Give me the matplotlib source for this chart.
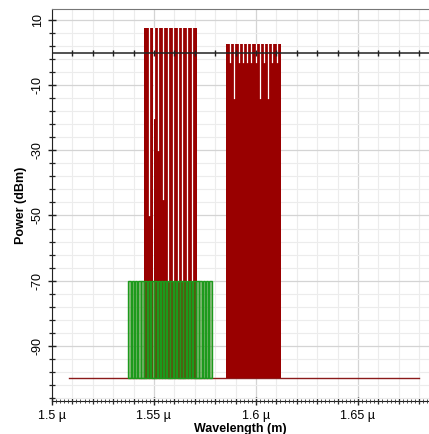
import matplotlib
matplotlib.use("Agg")
import matplotlib.pyplot as plt
import numpy as np

plt.rcParams['font.family'] = ['Liberation Sans', 'DejaVu Sans']

# channel centres (um) and peak powers (dBm)
red1_wl = [1.5463, 1.5486, 1.5510, 1.5533, 1.5557, 1.5580,
           1.5604, 1.5627, 1.5651, 1.5674, 1.5698]
red1_pw = [7.5, 7.5, 7.5, 7.5, 7.5, 7.5, 7.5, 7.5, 7.5, 7.5, 7.5]
# depth of the white notch between neighbouring channels
red1_gap = [-50, -20, -30, -45, -70, -70, -70, -70, -70, -70]

red2_wl = [1.5863, 1.5884, 1.5905, 1.5925, 1.5946, 1.5967, 1.5988,
           1.6008, 1.6029, 1.6050, 1.6071, 1.6091, 1.6112]
red2_pw = [2.6, 2.6, 2.6, 2.6, 2.6, 2.6, 2.6, 2.6, 2.6, 2.6, 2.6, 2.6, 2.6]
red2_gap = [-3, -14, -3, -3, -3, -3, -3, -14, -3, -14, -3, -3]

green_wl = [1.5381, 1.5397, 1.5413, 1.5429, 1.5445, 1.5460, 1.5476,
            1.5492, 1.5508, 1.5524, 1.5540, 1.5555, 1.5571, 1.5587,
            1.5603, 1.5619, 1.5634, 1.5650, 1.5666, 1.5682, 1.5698,
            1.5713, 1.5729, 1.5745, 1.5761, 1.5777]
green_pw = [-70] * 26

floor_db = -100
floor_start, floor_end = 1.5083, 1.680

red = '#990000'
green = '#1c9a1c'

fig = plt.figure(figsize=(4.29, 4.34), dpi=100)
ax = fig.add_axes([0.121, 0.076, 0.879, 0.903])

# noise floor
ax.plot([floor_start, floor_end], [floor_db, floor_db], color='#8b1a1a', lw=1, zorder=2)


def draw_red(wl, pw, gap):
    wl = np.array(wl)
    step = wl[1] - wl[0]
    ax.bar(wl, np.array(pw) - floor_db, bottom=floor_db, width=step,
           color=red, lw=0, zorder=3)
    # white notches between channels
    mids = (wl[:-1] + wl[1:]) / 2
    for m, g, p in zip(mids, gap, pw):
        ax.plot([m, m], [g, p], color='white', lw=0.9, zorder=4)


draw_red(red1_wl, red1_pw, red1_gap)
draw_red(red2_wl, red2_pw, red2_gap)

gwl = np.array(green_wl)
gstep = gwl[1] - gwl[0]
ax.bar(gwl, np.array(green_pw) - floor_db, bottom=floor_db, width=gstep * 0.8,
       facecolor=(0.2, 0.55, 0.1, 0.55), edgecolor=green, lw=1.0, zorder=5)

# 0 dBm reference line with its own ticks
ax.axhline(0, color='#222222', lw=1.1, zorder=6)
zt = np.arange(1.51, 1.685, 0.01)
ax.plot(zt, np.zeros(len(zt)), ls='none', marker='|', ms=5, color='#222222', zorder=6)

# dense small ticks along the bottom axis
xt = np.arange(1.502, 1.685, 0.002)
ax.plot(xt, np.full(len(xt), -107), ls='none', marker='|', ms=2.5, mew=0.6,
        color='#333333', clip_on=False, zorder=7)

ax.set_xlim(1.5, 1.6848)
ax.set_ylim(-107, 13.4)

ax.set_xticks([1.5, 1.55, 1.6, 1.65])
ax.set_xticklabels(['1.5 \u00b5', '1.55 \u00b5', '1.6 \u00b5', '1.65 \u00b5'], fontsize=9)
ax.set_xticks(np.arange(1.51, 1.685, 0.01), minor=True)
ax.set_yticks([10, -10, -30, -50, -70, -90])
ax.set_yticklabels(['10', '-10', '-30', '-50', '-70', '-90'], fontsize=9,
                   rotation=90, va='center')
ax.set_yticks(np.arange(-106, 13, 4), minor=True)

ax.tick_params(axis='both', which='major', direction='inout', length=6, width=1, color='#222222')
ax.tick_params(axis='both', which='minor', direction='inout', length=4, width=0.9, color='#222222')
ax.tick_params(axis='y', pad=3)

ax.grid(True, which='major', color='#d4d4d4', lw=0.9, zorder=0)
ax.grid(True, which='minor', color='#ececec', lw=0.8, zorder=0)
ax.set_axisbelow(True)

ax.spines['right'].set_visible(False)
ax.spines['top'].set_linestyle((0, (1.5, 1)))
ax.spines['top'].set_color('#777777')
ax.spines['left'].set_color('#222222')
ax.spines['bottom'].set_color('#222222')

ax.set_xlabel('Wavelength (m)', fontsize=9, fontweight='bold', labelpad=1)
ax.set_ylabel('Power (dBm)', fontsize=9, fontweight='bold', labelpad=3)

fig.savefig('out.png', dpi=100)
